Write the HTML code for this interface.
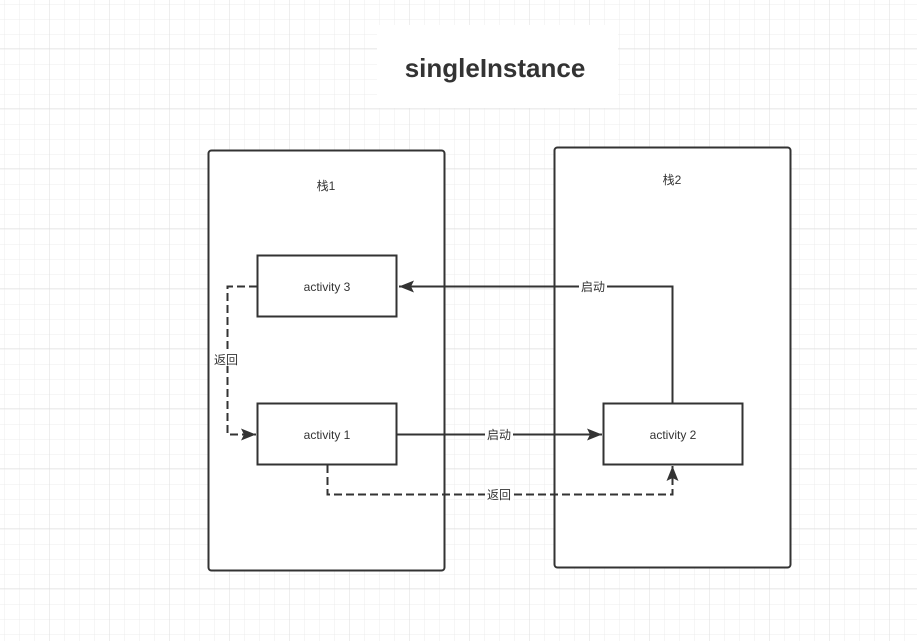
<!DOCTYPE html>
<html><head><meta charset="utf-8"><style>
html,body{margin:0;padding:0;background:#fff}
svg{display:block}
text{font-family:"Liberation Sans","Noto Sans CJK SC",sans-serif;fill:#333}
</style></head><body>
<svg width="917" height="641" xmlns="http://www.w3.org/2000/svg">
<defs>
<pattern id="g" width="15" height="15" patternUnits="userSpaceOnUse" x="4" y="4">
<path d="M0 0H15M0 0V15" stroke="#ececec" stroke-width="1" fill="none"/>
</pattern>
<pattern id="G" width="60" height="60" patternUnits="userSpaceOnUse" x="49" y="48">
<path d="M0 0H60M0 0V60" stroke="#dedede" stroke-width="1" fill="none"/>
</pattern>
<marker id="a" markerWidth="16" markerHeight="12" refX="15" refY="6" orient="auto" markerUnits="userSpaceOnUse">
<path d="M0 0L15 6L0 12L3 6Z" fill="#333"/>
</marker>
</defs>
<rect width="917" height="641" fill="url(#g)"/>
<rect width="917" height="641" fill="url(#G)"/>
<rect x="377" y="25" width="241" height="83" fill="#fff"/>
<text x="495" y="77" font-size="26" font-weight="bold" text-anchor="middle">singleInstance</text>

<rect x="208.5" y="150.5" width="236" height="420" rx="3" fill="#fff" stroke="#333" stroke-width="2"/>
<rect x="554.5" y="147.5" width="236" height="420" rx="3" fill="#fff" stroke="#333" stroke-width="2"/>
<text x="326" y="190" font-size="12" text-anchor="middle">栈1</text>
<text x="672" y="184" font-size="12" text-anchor="middle">栈2</text>

<rect x="257.5" y="255.5" width="139" height="61" fill="#fff" stroke="#333" stroke-width="2"/>
<rect x="257.5" y="403.5" width="139" height="61" fill="#fff" stroke="#333" stroke-width="2"/>
<rect x="603.5" y="403.5" width="139" height="61" fill="#fff" stroke="#333" stroke-width="2"/>
<text x="327" y="291" font-size="12" text-anchor="middle">activity 3</text>
<text x="327" y="439" font-size="12" text-anchor="middle">activity 1</text>
<text x="673" y="439" font-size="12" text-anchor="middle">activity 2</text>

<path d="M672.5 403V286.5H399" fill="none" stroke="#333" stroke-width="2" marker-end="url(#a)"/>
<path d="M397 434.5H602" fill="none" stroke="#333" stroke-width="2" marker-end="url(#a)"/>
<path d="M327.5 465V494.5H672.5V466" fill="none" stroke="#333" stroke-width="2" stroke-dasharray="8 4" marker-end="url(#a)"/>
<path d="M257 286.5H227.5V434.5H256" fill="none" stroke="#333" stroke-width="2" stroke-dasharray="8 4" marker-end="url(#a)"/>

<rect x="579" y="279" width="28" height="14" fill="#fff"/>
<text x="593" y="291" font-size="12" text-anchor="middle">启动</text>
<rect x="485" y="427" width="28" height="14" fill="#fff"/>
<text x="499" y="439" font-size="12" text-anchor="middle">启动</text>
<rect x="485" y="487" width="28" height="14" fill="#fff"/>
<text x="499" y="499" font-size="12" text-anchor="middle">返回</text>
<rect x="212" y="352" width="28" height="14" fill="#fff"/>
<text x="226" y="364" font-size="12" text-anchor="middle">返回</text>
</svg>
</body></html>
